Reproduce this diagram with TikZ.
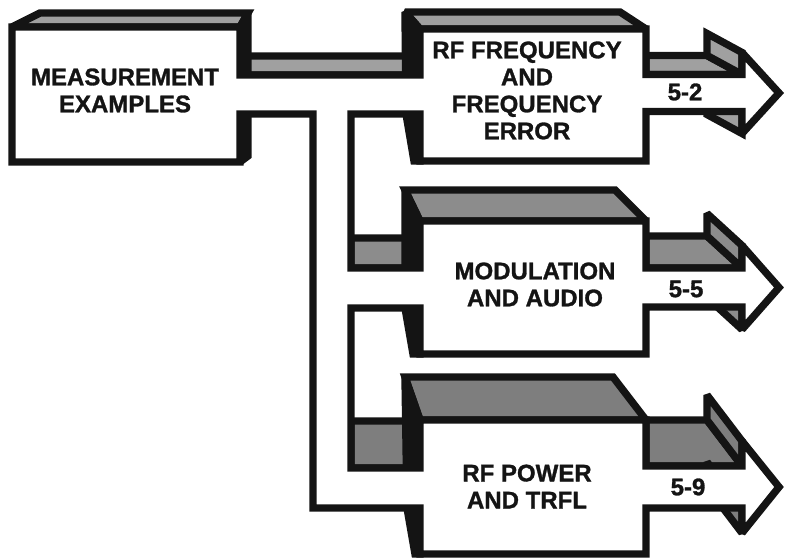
\documentclass[tikz,border=0pt]{standalone}
\usepackage{fontspec}
\setmainfont{Liberation Sans}[BoldFeatures={FakeBold=1.2}]
\definecolor{ink}{HTML}{141414}
\definecolor{shadelight}{HTML}{A0A0A0}
\definecolor{shademid}{HTML}{8C8C8C}
\definecolor{shadedark}{HTML}{7E7E7E}
\tikzset{
  front/.style ={fill=white, draw=ink, line width=3.7pt, line join=miter,
                 miter limit=2},
  topl/.style  ={front, fill=shadelight},
  topm/.style  ={front, fill=shademid},
  topd/.style  ={front, fill=shadedark},
  side/.style  ={front, fill=ink},
  lbl/.style   ={font=\fontsize{12}{13.5}\selectfont\bfseries, text=ink,
                 align=center, inner sep=0pt}
}
\begin{document}
\begin{tikzpicture}[x=0.5pt, y=-0.5pt]
  \useasboundingbox (0,0) rectangle (785,560);
  % tops of pipe and main box
  \draw[topl] (240,56) -- (405,56) -- (420,75) -- (240,75) -- cycle;
  \draw[topl] (12,27) -- (40,13) -- (248,13) -- (240,27) -- cycle;
  \draw[side] (240,27) -- (248,13) -- (248,156) -- (240,162) -- cycle;
  % stub tops
  \draw[topm] (351,238) -- (405,238) -- (420,268) -- (351,268) -- cycle;
  \draw[topd] (351,421) -- (405,421) -- (420,468) -- (351,468) -- cycle;
  % box tops and left sides
  \draw[topl] (420,29) -- (405,12) -- (620,12) -- (646,29) -- cycle;
  \draw[side] (405,12) -- (420,29) -- (420,161) -- (414,161) -- (406,114) -- cycle;
  \draw[topm] (420,221) -- (405,190) -- (615,190) -- (646,221) -- cycle;
  \draw[side] (405,190) -- (420,221) -- (420,354) -- (413,354) -- (405,308) -- cycle;
  \draw[topd] (420,420) -- (405,377) -- (613,377) -- (646,420) -- cycle;
  \draw[side] (405,377) -- (420,420) -- (420,554) -- (415,554) -- (407,508) -- cycle;
  % arrow 5-2
  \draw[topl] (646,55.5) -- (707,55.5) -- (742,74.5) -- (646,74.5) -- cycle;
  \draw[topl] (742,52.5) -- (707,33.5) -- (707,55.5) -- (742,74.5) -- cycle;
  \draw[topl] (742,111.5) -- (742,133.5) -- (707,114.5) -- (707,92.5) -- cycle;
  % arrow 5-5
  \draw[topm] (646,236) -- (707,236) -- (742,268) -- (646,268) -- cycle;
  \draw[topm] (742,245.5) -- (707,213.5) -- (707,236) -- (742,268) -- cycle;
  \draw[topm] (742,307) -- (742,329.5) -- (707,297.5) -- (707,275) -- cycle;
  % arrow 5-9
  \draw[topd] (646,420) -- (707,420) -- (742,466) -- (646,466) -- cycle;
  \draw[topd] (742,441) -- (707,395) -- (707,420) -- (742,466) -- cycle;
  \draw[topd] (742,508) -- (742,533) -- (707,487) -- (707,462) -- cycle;
  % front faces
  \draw[front] (12,27) -- (240,27) -- (240,75) -- (420,75) -- (420,29) -- (646,29)
    -- (646,74.5) -- (742,74.5) -- (742,52.5) -- (779,93) -- (742,133.5) -- (742,111.5) -- (646,111.5)
    -- (646,161) -- (420,161) -- (420,114) -- (351,114) -- (351,268) -- (420,268) -- (420,221) -- (646,221)
    -- (646,268) -- (742,268) -- (742,245.5) -- (779,287.5) -- (742,329.5) -- (742,307) -- (646,307)
    -- (646,354) -- (420,354) -- (420,308) -- (351,308) -- (351,468) -- (420,468) -- (420,420) -- (646,420)
    -- (646,466) -- (742,466) -- (742,441) -- (779,487) -- (742,533) -- (742,508) -- (646,508)
    -- (646,554) -- (420,554) -- (420,508) -- (313,508) -- (313,114) -- (240,114) -- (240,162)
    -- (12,162) -- cycle;
  % labels
  \node[lbl] (meas)   at (125,90.5)  {MEASUREMENT\\EXAMPLES};
  \node[lbl] (rffreq) at (527,90.5)  {RF FREQUENCY\\AND\\FREQUENCY\\ERROR};
  \node[lbl] (modaud) at (535,284.5) {MODULATION\\AND AUDIO};
  \node[lbl] (rfpow)  at (527,486.5) {RF POWER\\AND TRFL};
  \node[lbl] (p52)    at (685,92)    {5-2};
  \node[lbl] (p55)    at (686,289)   {5-5};
  \node[lbl] (p59)    at (688,487)   {5-9};
\end{tikzpicture}
\end{document}
